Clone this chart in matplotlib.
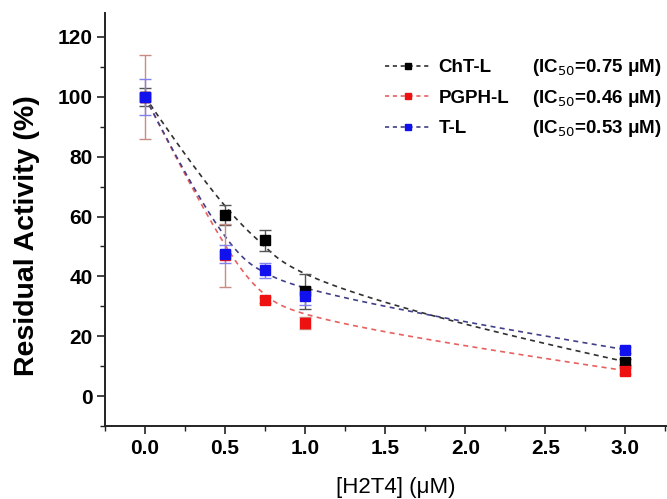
import numpy as np
import matplotlib
matplotlib.use("Agg")
import matplotlib.pyplot as plt
from matplotlib.ticker import MultipleLocator

plt.rcParams['font.family'] = ['Liberation Sans', 'DejaVu Sans']

# Inhibitor concentrations (µM)
conc = [0.0, 0.5, 0.75, 1.0, 3.0]

# Residual activity (%) and error bars for each proteasome activity
cht_l = [100.0, 60.5, 52.0, 35.0, 11.5]
cht_l_err = [3.0, 3.4, 3.5, 5.8, 1.0]
pgph_l = [100.0, 47.0, 32.0, 24.5, 8.5]
pgph_l_err = [14.0, 10.5, 1.0, 2.0, 1.0]
t_l = [100.0, 47.5, 42.0, 33.5, 15.5]
t_l_err = [6.0, 3.0, 2.5, 3.0, 1.0]

series_names = ["ChT-L", "PGPH-L", "T-L"]
ic50_labels = [r"(IC$_{50}$=0.75 μM)", r"(IC$_{50}$=0.46 μM)", r"(IC$_{50}$=0.53 μM)"]

marker_colors = ["#000000", "#ee1111", "#1111ee"]
line_colors = ["#303030", "#e86060", "#404088"]
err_colors = ["#555555", "#c98c80", "#8080ee"]

xticks = [0.0, 0.5, 1.0, 1.5, 2.0, 2.5, 3.0]
yticks = [0, 20, 40, 60, 80, 100, 120]


def bspline_connect(px, py, degree=3, samples=300):
    """Clamped B-spline connector using the data points as control points."""
    pts = np.column_stack([px, py])
    n = len(pts)
    k = min(degree, n - 1)
    inner = np.linspace(0, 1, n - k + 1)[1:-1]
    knots = np.concatenate([np.zeros(k + 1), inner, np.ones(k + 1)])
    u = np.linspace(0, 1, samples)
    u[-1] = 1 - 1e-12
    # Cox-de Boor recursion
    N = np.zeros((samples, len(knots) - 1))
    for j in range(len(knots) - 1):
        N[:, j] = (u >= knots[j]) & (u < knots[j + 1])
    for d in range(1, k + 1):
        Nn = np.zeros((samples, len(knots) - 1 - d))
        for j in range(len(knots) - 1 - d):
            left = knots[j + d] - knots[j]
            right = knots[j + d + 1] - knots[j + 1]
            a = (u - knots[j]) / left * N[:, j] if left > 0 else 0
            b = (knots[j + d + 1] - u) / right * N[:, j + 1] if right > 0 else 0
            Nn[:, j] = a + b
        N = Nn
    curve = N @ pts
    return curve[:, 0], curve[:, 1]


fig = plt.figure(figsize=(6.67, 4.99), dpi=100)
ax = fig.add_axes([105 / 667, 73 / 499, 562 / 667, 413 / 499])

data = [cht_l, pgph_l, t_l]
errs = [cht_l_err, pgph_l_err, t_l_err]

handles = []
for i in range(3):
    cx, cy = bspline_connect(conc, data[i])
    ax.plot(cx, cy, color=line_colors[i], lw=1.2,
            linestyle=(0, (3, 2.6)), zorder=2)
    ax.errorbar(conc, data[i], yerr=errs[i], fmt='none',
                ecolor=err_colors[i], elinewidth=1.0, capsize=4,
                capthick=1.0, zorder=3)
    ax.plot(conc, data[i], 's', color=marker_colors[i], ms=6.5,
            mec=marker_colors[i], zorder=4)
    hd, = ax.plot([], [], color=line_colors[i], lw=1.2,
                  linestyle=(0, (2.5, 2.2)), marker='s', ms=4.5,
                  mfc=marker_colors[i], mec=marker_colors[i])
    handles.append(hd)

ax.set_xlim(-0.25, 3.26)
ax.set_ylim(-10, 128)
ax.set_xticks(xticks)
ax.set_yticks(yticks)
ax.set_xticklabels([f"{v:.1f}" for v in xticks])
ax.xaxis.set_minor_locator(MultipleLocator(0.25))
ax.yaxis.set_minor_locator(MultipleLocator(10))

for side in ("top", "right"):
    ax.spines[side].set_visible(False)
for side in ("left", "bottom"):
    ax.spines[side].set_linewidth(1.4)
    ax.spines[side].set_color("#222222")

ax.tick_params(which='major', direction='out', length=6, width=1.2,
               labelsize=15, colors="#222222", labelcolor="black", pad=3)
ax.tick_params(which='minor', direction='out', length=3.5, width=1.0,
               colors="#222222")
for lab in ax.get_xticklabels() + ax.get_yticklabels():
    lab.set_fontweight('bold')

ax.set_ylabel("Residual Activity (%)", fontsize=20.5, fontweight='bold')
ax.yaxis.set_label_coords(-(105 - 40) / 562, (426 - 236) / 413)
ax.set_xlabel("[H2T4] (μM)", fontsize=16)
ax.xaxis.set_label_coords((396 - 105) / 562, -(477 - 426) / 413)

leg = ax.legend(handles, series_names, loc='upper left',
                bbox_to_anchor=((385 - 105) / 562, (426 - 59) / 413),
                frameon=False, borderpad=0, borderaxespad=0,
                handlelength=2.4, handletextpad=0.45, labelspacing=0.72,
                prop={'weight': 'bold', 'size': 13.5})

fig.canvas.draw()
inv = ax.transAxes.inverted()
x_ic = (532 - 105) / 562
for txt, lab in zip(leg.get_texts(), ic50_labels):
    bb = txt.get_window_extent()
    yc = inv.transform(((bb.x0 + bb.x1) / 2, (bb.y0 + bb.y1) / 2))[1]
    ax.text(x_ic, yc, lab, transform=ax.transAxes, fontsize=13.5,
            fontweight='bold', va='center', ha='left')

fig.savefig("out.png", dpi=100)
